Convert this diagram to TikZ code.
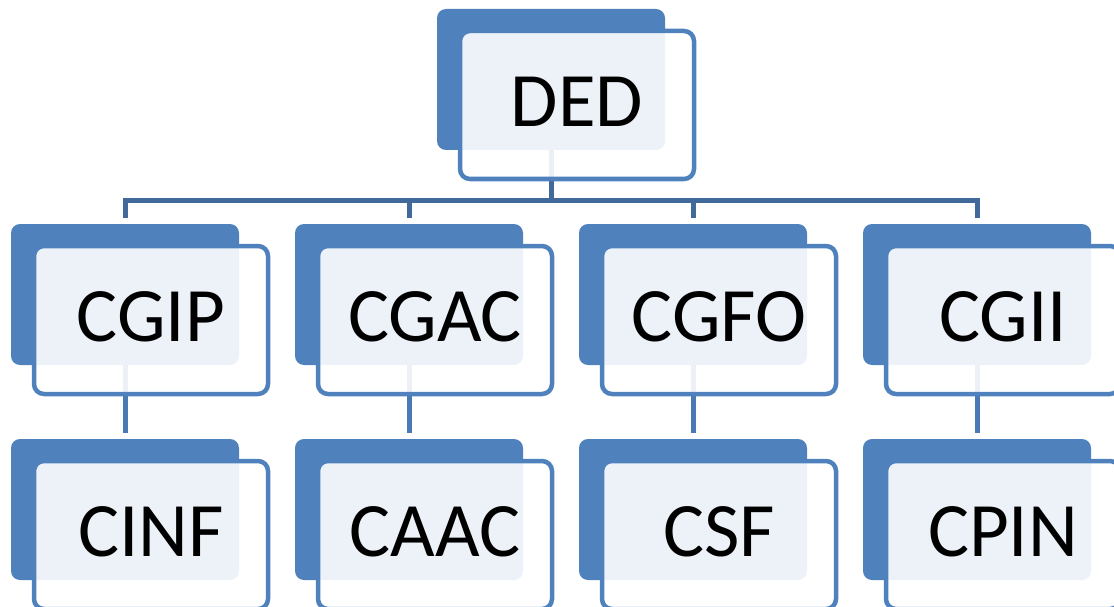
\documentclass[tikz,border=0pt]{standalone}
\usepackage{fontspec}
\setmainfont{Carlito}
\pgfdeclarelayer{background}
\pgfsetlayers{background,main}
\definecolor{accent}{HTML}{4F81BD}
\definecolor{busline}{HTML}{41699A}
\definecolor{linkline}{HTML}{4A7AB5}
\tikzset{
  backbox/.style={rectangle, rounded corners=9pt, fill=accent, draw=none,
    minimum width=228pt, minimum height=141pt, inner sep=0pt, outer sep=0pt},
  frontbox/.style={rectangle, rounded corners=10pt, draw=accent, line width=4.5pt,
    fill=white, fill opacity=0.9, draw opacity=1,
    minimum width=234pt, minimum height=148pt, inner sep=0pt, outer sep=0pt},
  boxtext/.style={inner sep=0pt, font=\fontsize{77}{90}\selectfont, text=black},
  busconn/.style={draw=busline, line width=5pt, line join=miter, shorten >=6pt},
  linkconn/.style={draw=linkline, line width=5pt, shorten >=6pt},
}
% one box of the chart: #1 name, #2 centre x of the back plate, #3 top y, #4 text
\newcommand{\placebox}[4]{%
  \node[backbox] (#1back) at (#2,#3+70.5) {};
  \node[frontbox] (#1front) at (#2+26,#3+96) {};
  \node[boxtext] (#1text) at (#2+26,#3+93) {#4};
}
\begin{document}
\begin{tikzpicture}[x=1pt,y=-1pt]
  \useasboundingbox (0,0) rectangle (1114,607);
  \clip (0,0) rectangle (1114,607);
  % boxes
  \placebox{ded}{551}{9}{DED}
  \placebox{cgip}{125}{224}{CGIP}
  \placebox{cgac}{409}{224}{CGAC}
  \placebox{cgfo}{693}{224}{CGFO}
  \placebox{cgii}{977}{224}{CGII}
  \placebox{cinf}{125}{439}{CINF}
  \placebox{caac}{409}{439}{CAAC}
  \placebox{csf}{693}{439}{CSF}
  \placebox{cpin}{977}{439}{CPIN}
  % connectors underneath the boxes
  \begin{pgfonlayer}{background}
    \coordinate (hub) at (551,200);
    \draw[draw=busline, line width=5pt] (dedback.south) -- (hub);
    \foreach \c in {cgip,cgac,cgfo,cgii} {
      \draw[busconn] (hub) -| (\c back.north);
    }
    \draw[linkconn] (cgipback.south) -- (cinfback.north);
    \draw[linkconn] (cgacback.south) -- (caacback.north);
    \draw[linkconn] (cgfoback.south) -- (csfback.north);
    \draw[linkconn] (cgiiback.south) -- (cpinback.north);
  \end{pgfonlayer}
\end{tikzpicture}
\end{document}
